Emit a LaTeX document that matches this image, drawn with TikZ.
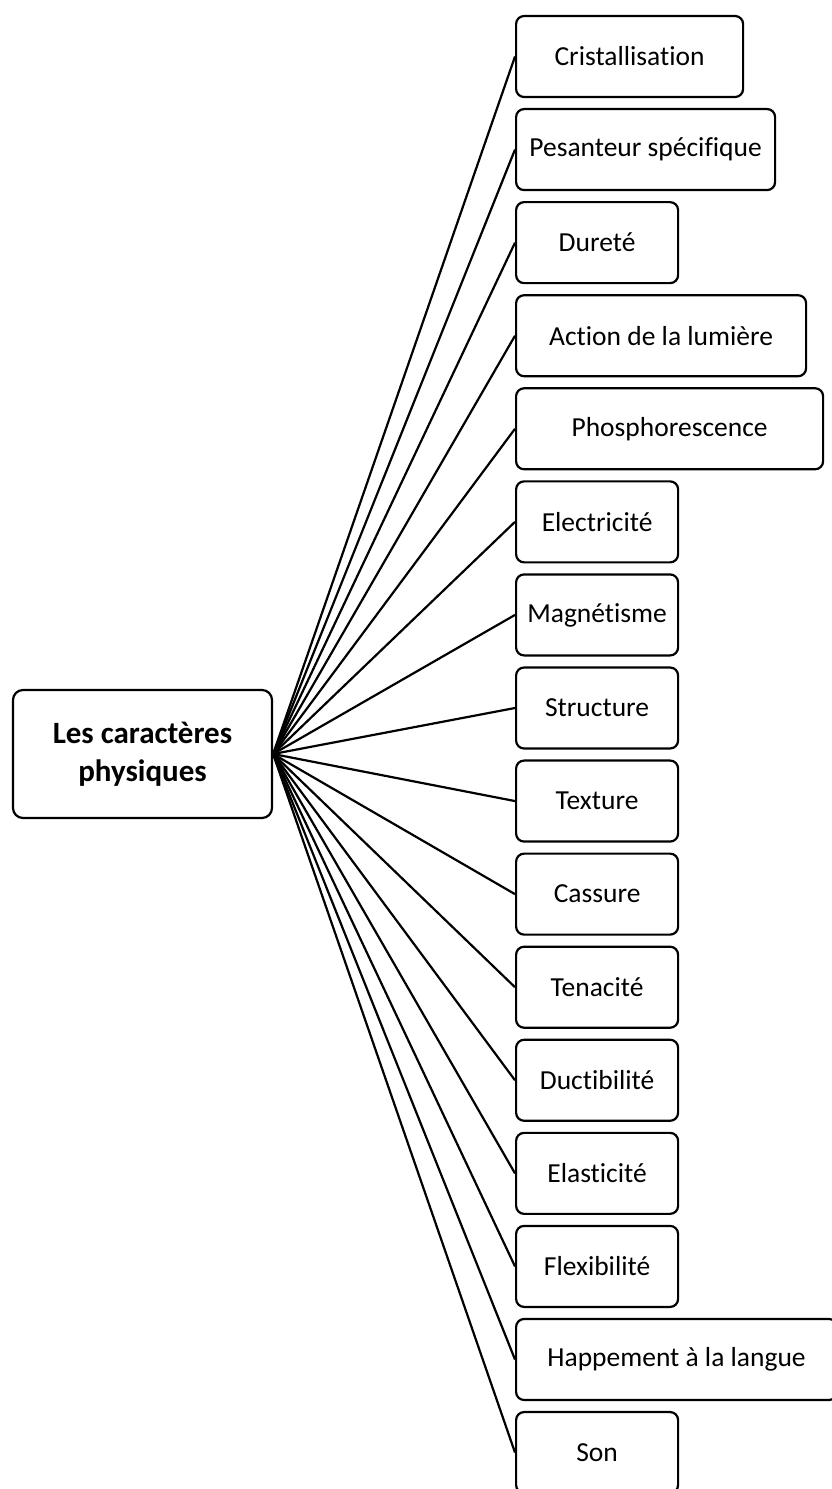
\documentclass[tikz,border=0pt]{standalone}
\usepackage{fontspec}
\setmainfont{Carlito}[Ligatures=NoCommon]
\begin{document}
\begin{tikzpicture}[x=1pt,y=-1pt,
  box/.style={draw, line width=2.2pt, rounded corners=8pt, inner sep=0pt,
    minimum height=81pt, font=\fontsize{27.5}{33}\selectfont, anchor=west},
  root/.style={draw, line width=2.2pt, rounded corners=10pt, inner sep=0pt,
    minimum width=259pt, minimum height=128pt, align=center,
    font=\fontsize{31}{38}\selectfont\bfseries},
  link/.style={line width=2.2pt}]
\useasboundingbox (0,0) rectangle (832,1489);
\clip (0,0) rectangle (832,1489);
\node[root] (r) at (142.5,754) {Les caractères\\physiques};
\def\pitch{93.07}
\foreach \i/\w/\t in {0/227/Cristallisation, 1/259/Pesanteur spécifique, 2/162/Dureté,
  3/290/Action de la lumière, 4/307/Phosphorescence, 5/162/Electricité,
  6/162/Magnétisme, 7/162/Structure, 8/162/Texture, 9/162/Cassure,
  10/162/Tenacité, 11/162/Ductibilité, 12/162/Elasticité, 13/162/Flexibilité,
  14/321/Happement à la langue, 15/162/Son}{
  \node[box, minimum width=\w pt] (b\i) at (515, 16+40.5+\i*\pitch) {\t};
  \draw[link] (r.east) -- (b\i.west);
}
\end{tikzpicture}
\end{document}
